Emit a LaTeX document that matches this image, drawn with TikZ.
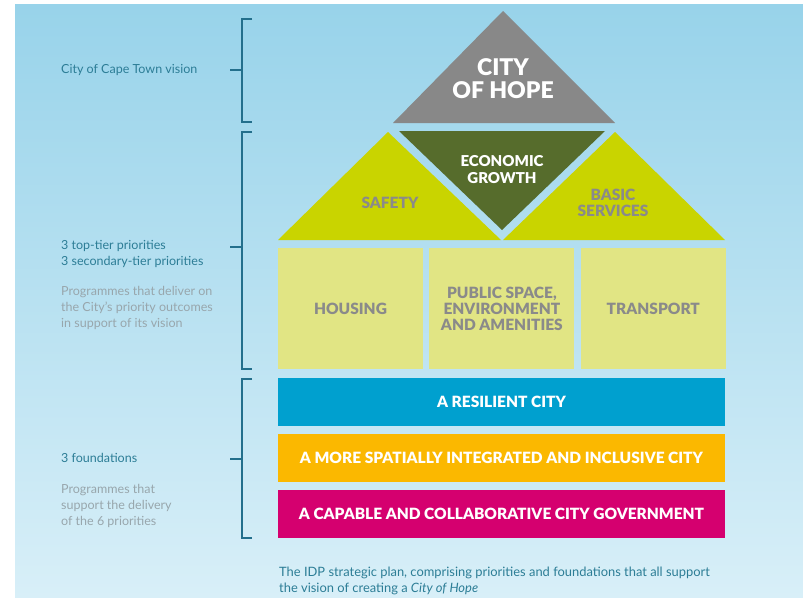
\documentclass[tikz,border=0pt]{standalone}
\usepackage{fontspec}
\setmainfont{Lato}[BoldFont={Lato Black}]
\usetikzlibrary{positioning}
\definecolor{skytop}{HTML}{98D3EA}
\definecolor{skybottom}{HTML}{D8EFF8}
\definecolor{hopegray}{HTML}{888888}
\definecolor{growthgreen}{HTML}{566C2C}
\definecolor{lime}{HTML}{C9D400}
\definecolor{palelime}{HTML}{E1E584}
\definecolor{resblue}{HTML}{00A0CF}
\definecolor{spatorange}{HTML}{FBB800}
\definecolor{govmagenta}{HTML}{D5006F}
\definecolor{tealtext}{HTML}{2C7D96}
\definecolor{bracketteal}{HTML}{236F8C}
\definecolor{notegray}{HTML}{98A6AC}
\definecolor{labelgray}{HTML}{8A8A8A}
\begin{document}
\begin{tikzpicture}[
    x=1pt, y=-1pt,
    node distance=6pt and 6pt,
    lbl/.style={align=center,text=labelgray,inner sep=0pt,
      font=\bfseries\fontsize{15.5}{16}\selectfont},
    prog/.style={fill=palelime,minimum width=145pt,minimum height=121pt,inner sep=0pt,
      lbl},
    bar/.style={minimum width=447pt,minimum height=48pt,inner sep=0pt,text=white,
      font=\bfseries\fontsize{15.5}{15.5}\selectfont},
    side/.style={anchor=west,align=left,inner sep=0pt,text=tealtext,
      font=\fontsize{12.5}{16}\selectfont},
    note/.style={side,text=notegray},
    brace/.style={draw=bracketteal,line width=1.4pt}
    ]

    \useasboundingbox (0,0) rectangle (803,597);
    \fill[top color=skytop,bottom color=skybottom] (15,4) rectangle (803,597);

    % roof
    \fill[hopegray] (393,123) -- (615,123) -- (503,11) -- cycle;
    \fill[lime] (278,240) -- (501,240) -- (388,132) -- cycle;
    \fill[lime] (503,240) -- (725,240) -- (615,132) -- cycle;
    \fill[growthgreen] (399,131) -- (605,131) -- (502,230) -- cycle;

    \node[lbl,text=white,font=\bfseries\fontsize{23}{23}\selectfont] (hope) at (503,79) {CITY\\OF HOPE};
    \node[lbl,text=white,font=\bfseries\fontsize{15}{17}\selectfont] (growth) at (502,170) {ECONOMIC\\GROWTH};
    \node[lbl] (safety) at (390,203) {SAFETY};
    \node[lbl] (basic) at (613,203) {BASIC\\SERVICES};

    % secondary priorities
    \node[prog] (housing) at (350.5,308.5) {HOUSING};
    \node[prog, right=of housing] (public) {PUBLIC SPACE,\\ENVIRONMENT\\AND AMENITIES};
    \node[prog, right=of public] (transport) {TRANSPORT};

    % foundations
    \node[bar,fill=resblue] (resilient) at (501.5,401.5) {A RESILIENT CITY};
    \node[bar,fill=spatorange, below=8pt of resilient] (spatial) {A MORE SPATIALLY INTEGRATED AND INCLUSIVE CITY};
    \node[bar,fill=govmagenta, below=8pt of spatial] (capable) {A CAPABLE AND COLLABORATIVE CITY GOVERNMENT};

    % brackets
    \draw[brace] (252,19) -- (242,19) -- (242,122) -- (252,122);
    \draw[brace] (252,132) -- (242,132) -- (242,369) -- (252,369);
    \draw[brace] (252,379) -- (242,379) -- (242,538) -- (252,538);
    \coordinate (t1) at (230,70);
    \coordinate (t2) at (230,247);
    \coordinate (t3) at (230,459);
    \draw[brace] (t1) -- ++(12,0);
    \draw[brace] (t2) -- ++(12,0);
    \draw[brace] (t3) -- ++(12,0);

    \node[side] (vision) at (61,70) {City of Cape Town vision};
    \node[side] (tiers) at (61,254) {3 top-tier priorities\\3 secondary-tier priorities};
    \node[note] (deliver) at (61,308) {Programmes that deliver on\\the City’s priority outcomes\\in support of its vision};
    \node[side] (found) at (61,458) {3 foundations};
    \node[note] (support) at (61,506) {Programmes that\\support the delivery\\of the 6 priorities};

    \node[side,anchor=north west,font=\fontsize{12.9}{15.5}\selectfont] (caption) at (279,567) {The IDP strategic plan, comprising priorities and foundations that all support\\the vision of creating a \textit{City of Hope}};

  \end{tikzpicture}
\end{document}
